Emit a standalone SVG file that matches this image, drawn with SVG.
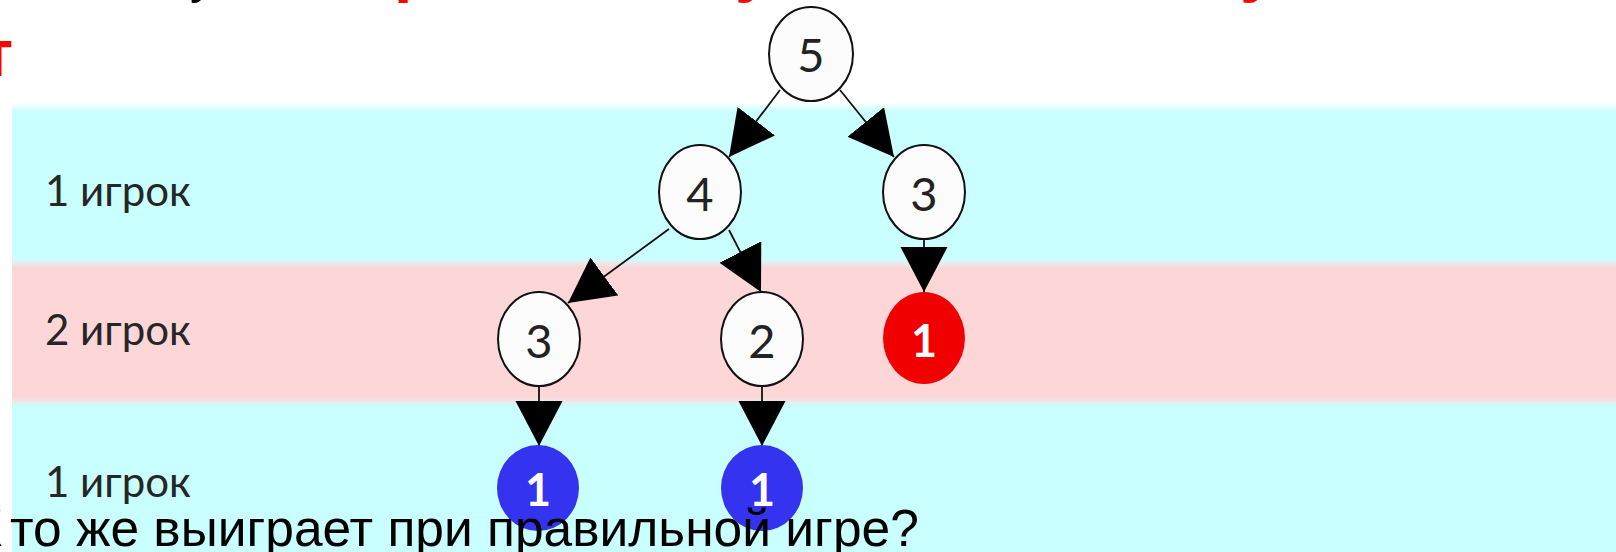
<svg xmlns="http://www.w3.org/2000/svg" width="1616" height="552" viewBox="0 0 1616 552">
  <defs>
    <style>
      .lbl{font-family:Lato,"Open Sans",sans-serif;font-size:42px;fill:#262626}
      .num{font-family:Lato,"Open Sans",sans-serif;font-size:47px;fill:#222;text-anchor:middle}
      .numw{font-family:Lato,"Open Sans",sans-serif;font-weight:bold;font-size:45px;fill:#fff;text-anchor:middle}
      .node{fill:#fcfcfc;stroke:#111;stroke-width:2}
      .win{fill:#f00000}
      .lose{fill:#3434f0}
      .edge{stroke:#111;stroke-width:1.8;fill:none;marker-end:url(#ah)}
      .head{font-family:"Liberation Sans",Arial,sans-serif;font-weight:bold;font-size:66px;fill:#f00}
      .headk{font-family:"Liberation Sans",Arial,sans-serif;font-size:50px;fill:#000}
      .q{font-family:"Liberation Sans",Arial,sans-serif;font-size:51.5px;fill:#000}
    </style>
    <marker id="ah" markerUnits="userSpaceOnUse" viewBox="0 0 46 48" markerWidth="46" markerHeight="48" refX="45" refY="23.5" orient="auto">
      <path d="M0,0 L45,23.5 L0,47 z" fill="#000"/>
    </marker>
    <filter id="soft" x="-0.01" y="-0.1" width="1.02" height="1.2">
      <feGaussianBlur stdDeviation="0 3"/>
    </filter>
  </defs>

  <rect width="1616" height="552" fill="#fff"/>

  <!-- previous heading line, only its descenders fall inside the frame -->
  <g id="heading-top">
    <text class="headk" x="190" y="-7">у</text>
    <text class="head" x="394" y="-11">р</text>
    <text class="head" x="735" y="-11">у</text>
    <text class="head" x="1240" y="-11">у</text>
  </g>
  <text id="heading" class="head" x="-3" y="76" text-anchor="middle">т</text>

  <!-- player bands -->
  <g id="bands" filter="url(#soft)">
    <rect x="12" y="107" width="1610" height="157" fill="#c9ffff"/>
    <rect x="12" y="263" width="1610" height="139" fill="#fdd6d8"/>
    <rect x="12" y="402" width="1610" height="160" fill="#c9ffff"/>
  </g>

  <g id="row-labels">
    <text class="lbl" x="45" y="206">1 игрок</text>
    <text class="lbl" x="45" y="345">2 игрок</text>
    <text class="lbl" x="45" y="497">1 игрок</text>
  </g>

  <!-- moves -->
  <g id="edges">
    <line class="edge" x1="780" y1="90" x2="729" y2="157"/>
    <line class="edge" x1="840" y1="90" x2="894" y2="157"/>
    <line class="edge" x1="669" y1="229" x2="568" y2="303"/>
    <line class="edge" x1="729" y1="230" x2="761" y2="292"/>
    <line class="edge" x1="924" y1="238" x2="924" y2="292"/>
    <line class="edge" x1="539" y1="385" x2="539" y2="446"/>
    <line class="edge" x1="762" y1="385" x2="762" y2="446"/>
  </g>

  <!-- positions -->
  <g id="n5">
    <ellipse class="node" cx="811" cy="54" rx="42" ry="47"/>
    <text class="num" x="811" y="72">5</text>
  </g>
  <g id="n4">
    <ellipse class="node" cx="700" cy="192" rx="41" ry="47"/>
    <text class="num" x="700" y="211">4</text>
  </g>
  <g id="n3a">
    <ellipse class="node" cx="924" cy="192" rx="41" ry="47"/>
    <text class="num" x="924" y="211">3</text>
  </g>
  <g id="n3b">
    <ellipse class="node" cx="539" cy="339" rx="41" ry="47"/>
    <text class="num" x="539" y="358">3</text>
  </g>
  <g id="n2">
    <ellipse class="node" cx="762" cy="339" rx="41" ry="47"/>
    <text class="num" x="762" y="358">2</text>
  </g>
  <g id="n1-red">
    <ellipse class="win" cx="924" cy="338" rx="41" ry="46"/>
    <text class="numw" x="924" y="357">1</text>
  </g>
  <g id="n1-blue-a">
    <ellipse class="lose" cx="538" cy="488" rx="41" ry="43"/>
    <text class="numw" x="538" y="506">1</text>
  </g>
  <g id="n1-blue-b">
    <ellipse class="lose" cx="762" cy="488" rx="41" ry="43"/>
    <text class="numw" x="762" y="506">1</text>
  </g>

  <text id="question" class="q" y="546"><tspan x="-28">К</tspan><tspan x="10">то же выиграет при правильной игре?</tspan></text>
</svg>
